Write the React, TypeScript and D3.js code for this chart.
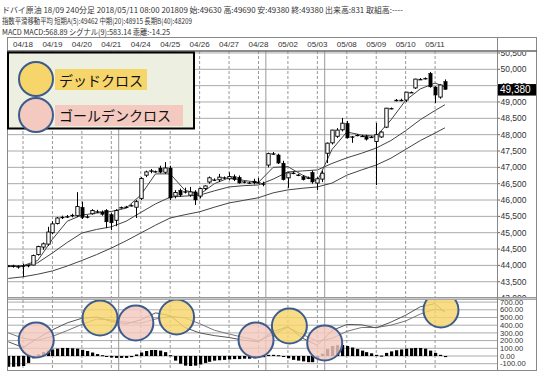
import React from 'react';
import * as d3 from 'd3';

const headerLine1 = 'ドバイ原油 18/09 240分足 2018/05/11 08:00 201809 始:49630 高:49690 安:49380 終:49380 出来高:831 取組高:----';
const headerLine2 = '指数平滑移動平均 短期A(5):49462 中期(20):48915 長期B(40):48209';
const headerLine3 = 'MACD MACD:568.89 シグナル(9):583.14 乖離:-14.25';

const dateLabels = ['04/18','04/19','04/20','04/21','04/24','04/25','04/26','04/27','04/28','05/02','05/03','05/08','05/09','05/10','05/11'];
const dateLabelIndex = [3,9,15,21,27,33,39,45,51,57,63,69,75,81,87];
const weekBreakIndex = [22.5, 52.5, 64.5];

const opens = [43980,43990,43970,43960,43990,44010,44330,44560,44650,45000,45280,45460,45480,45510,45520,45780,45470,45580,45650,45640,45690,45560,45380,45770,45780,45830,45780,46050,46760,46900,46860,46980,46850,46980,46120,46300,46240,46150,46250,46120,46350,46550,46610,46620,46680,46650,46720,46700,46540,46530,46580,46530,46480,47070,47410,47380,47130,46680,46820,46760,46720,46670,46850,46520,46640,47430,47750,47950,48150,48350,47920,47980,47950,47950,47920,47790,47930,48230,48800,49050,49050,49060,49290,49430,49690,49710,49880,49460,49150,49630];
const highs = [44010,44020,44000,44050,44020,44330,44600,44700,45180,45350,45480,45520,45540,45580,46240,45950,45540,45720,45700,45680,45720,45600,45720,45800,45820,45870,46000,46700,46900,46950,46900,47050,47160,47050,46300,46350,46380,46400,46300,46380,46450,46720,46660,46800,46720,46850,46780,46750,46580,46560,46650,46680,46560,47450,47470,47420,47200,46850,46870,46800,46760,46720,46900,46700,46900,47760,48150,48200,48510,48420,47960,48020,47990,48000,47960,48360,48100,48820,48830,49090,49100,49310,49320,49710,49730,49750,49920,49480,49540,49690];
const lows = [43950,43930,43900,43650,43940,44000,44300,44480,44600,44950,45250,45420,45450,45470,45480,45420,45440,45550,45600,45520,45140,45080,45200,45740,45750,45800,45450,46000,46700,46820,46840,46820,46800,46000,46050,46100,46200,46100,45850,46050,46300,46500,46580,46550,46640,46600,46580,46500,46510,46500,46480,46500,46420,47000,47380,47100,46600,46370,46790,46730,46600,46640,46500,46300,46550,47130,47700,47900,48100,47880,47750,47950,47930,47820,47900,46460,47900,48200,48780,49020,49020,49000,49280,49400,49680,49690,49440,48970,49100,49380];
const closes = [43990,43970,43960,43990,44010,44300,44580,44660,45020,45270,45450,45480,45500,45540,45800,45460,45490,45680,45640,45560,45330,45300,45680,45780,45790,45840,45950,46660,46860,46870,46880,46850,46980,46060,46230,46150,46260,46250,46000,46350,46430,46680,46620,46700,46690,46720,46620,46520,46560,46520,46520,46540,46500,47420,47420,47130,46620,46830,46830,46770,46620,46680,46550,46650,46820,47740,48140,48140,48350,47900,47940,47990,47960,47860,47930,48000,48080,48810,48810,49060,49060,49300,49300,49700,49700,49730,49460,49210,49520,49380];

const maIndex = [0,3,6,9,12,15,18,21,24,27,30,33,36,39,42,45,48,51,54,57,60,63,66,69,72,75,78,81,84,87,89];
const maShort = [43980,43990,44150,44800,45350,45540,45600,45650,45750,46150,46800,46800,46300,46170,46500,46680,46600,46540,47000,47020,46760,46580,47550,48080,47990,47950,48450,49050,49400,49580,49462];
const maMid = [43960,43980,44080,44380,44700,44990,45100,45180,45350,45620,45880,46090,46120,46150,46280,46400,46440,46460,46640,46860,46890,46920,47120,47290,47430,47590,47820,48120,48460,48740,48915];
const maLong = [43600,43650,43730,43830,43980,44150,44330,44530,44750,44990,45230,45450,45550,45640,45780,45910,45990,46070,46220,46310,46360,46400,46520,46760,46920,47070,47280,47550,47820,48050,48209];

const macdLine = [185,110,230,340,430,490,505,450,415,470,560,525,370,300,265,240,205,185,320,380,230,140,330,410,405,365,440,530,640,680,569];
const signalLine = [300,230,205,255,330,410,480,470,440,425,480,515,495,420,335,285,240,200,280,370,280,190,230,320,370,370,400,455,545,610,583];
const histogram = [-140,-140,-135,-130,-90,-30,20,50,70,85,95,104,104,100,95,80,65,45,25,10,-10,-20,-25,-25,-25,-15,20,45,65,78,78,70,50,10,-60,-100,-125,-130,-125,-110,-90,-75,-60,-55,-50,-45,-40,-40,-35,-35,-30,-25,-15,15,15,10,-5,-30,-50,-60,-70,-80,-80,-40,30,90,130,140,143,130,110,90,70,50,35,15,5,40,60,75,85,95,100,104,104,95,70,40,15,-14.25];

const crossIndex = [5.7, 18.7, 26.0, 34.3, 50.5, 57.3, 64.5, 88.2];
const crossValue = [208, 494, 429, 506, 208, 390, 169, 597];
const crossType = ['golden','dead','golden','dead','golden','dead','golden','dead'];

const priceTicks = [50500,50000,49500,49000,48500,48000,47500,47000,46500,46000,45500,45000,44500,44000,43500,43000];
const macdTicks = [700,600,500,400,300,200,100,0,-100];

const legendLabels = ['デッドクロス', 'ゴールデンクロス'];

const YELLOW = '#F6D56B';
const PINK = '#F3C9C0';
const RING = '#3D5C8E';

export default function App() {
  const plotL = 7, plotR = 497, frameR = 537;
  const frameT = 37, dateB = 51, priceB = 297, macdT = 300, frameB = 370;
  const x = d3.scaleLinear().domain([0, 89]).range([8.3, 444.9]);
  const y = d3.scaleLinear().domain([43000, 50500]).range([298.06, 52.96]);
  const ym = d3.scaleLinear().domain([-100, 700]).range([363.7, 302.1]);
  const fmtP = d3.format(',');
  const fmtM = (v: number) => d3.format('.2f')(v).replace('\u2212', '-');
  const numFont = '"Liberation Sans", Arial, sans-serif';
  const jpFont = '"Noto Sans CJK JP", "Noto Sans", sans-serif';

  const lineP = (vals: number[]) =>
    d3.line<number>().x((_, k) => x(maIndex[k])).y((v) => y(v))(vals) || '';
  const lineM = (vals: number[]) =>
    d3.line<number>().x((_, k) => x(maIndex[k])).y((v) => ym(v))(vals) || '';

  const bw = 3.4;
  const lastClose = closes[closes.length - 1];

  return (
    <>
      <style>{'body{margin:0;background:#fff}'}</style>
      <svg width={543} height={379} style={{ display: 'block' }}>
        <defs>
          <clipPath id="pc"><rect x={plotL} y={dateB} width={plotR - plotL} height={priceB - dateB} /></clipPath>
          <clipPath id="mc"><rect x={plotL} y={macdT} width={plotR - plotL} height={frameB - macdT} /></clipPath>
          <clipPath id="pac"><rect x={plotR} y={dateB + 1} width={frameR - plotR} height={priceB - dateB - 1} /></clipPath>
          <clipPath id="mac"><rect x={plotR} y={macdT} width={frameR - plotR} height={frameB - macdT} /></clipPath>
        </defs>
        <rect x={0} y={0} width={543} height={379} fill="#fff" />

        {/* header */}
        <g fontFamily={jpFont} fontSize={8} fill="#333">
          <text x={2} y={12.5} textLength={401} lengthAdjust="spacingAndGlyphs">{headerLine1}</text>
          <text x={2} y={24} textLength={190} lengthAdjust="spacingAndGlyphs">{headerLine2}</text>
          <text x={2} y={35} textLength={168} lengthAdjust="spacingAndGlyphs">{headerLine3}</text>
        </g>

        {/* date labels */}
        <g fontFamily={numFont} fontSize={8} fill="#333" textAnchor="middle">
          {dateLabels.map((d, k) => (
            <text key={d} x={x(dateLabelIndex[k])} y={47}>{d}</text>
          ))}
        </g>

        {/* price grid */}
        <g clipPath="url(#pc)">
          {priceTicks.map((t) => (
            <line key={t} x1={plotL} x2={plotR} y1={y(t)} y2={y(t)} stroke="#aaa" strokeWidth={1} />
          ))}
          {dateLabelIndex.map((i) => (
            <line key={i} x1={x(i)} x2={x(i)} y1={dateB} y2={priceB} stroke="#999" strokeDasharray="3,2" strokeWidth={1} />
          ))}
          {weekBreakIndex.map((i) => (
            <line key={i} x1={x(i)} x2={x(i)} y1={dateB} y2={priceB} stroke="#999" strokeWidth={1} />
          ))}
          {/* moving averages */}
          <path d={lineP(maLong)} fill="none" stroke="#444" strokeWidth={1} />
          <path d={lineP(maMid)} fill="none" stroke="#444" strokeWidth={1} />
          <path d={lineP(maShort)} fill="none" stroke="#444" strokeWidth={1} />
          {/* candles */}
          {opens.map((o, i) => {
            const c = closes[i];
            const up = c >= o;
            const top = y(Math.max(o, c));
            const bot = y(Math.min(o, c));
            const h = Math.max(bot - top, 1);
            const cx = Math.round(x(i)) + 0.5;
            return (
              <g key={i}>
                <line x1={cx} x2={cx} y1={y(highs[i])} y2={y(lows[i])} stroke="#000" strokeWidth={1} />
                <rect x={cx - bw / 2} y={top} width={bw} height={h}
                  fill={up && h > 1.5 ? '#fff' : '#000'} stroke="#000" strokeWidth={up && h > 1.5 ? 0.9 : 0.3} />
              </g>
            );
          })}
        </g>

        {/* macd panel */}
        <g clipPath="url(#mc)">
          {macdTicks.map((t) => (
            <line key={t} x1={plotL} x2={plotR} y1={ym(t)} y2={ym(t)} stroke="#aaa" strokeWidth={1} />
          ))}
          {dateLabelIndex.map((i) => (
            <line key={i} x1={x(i)} x2={x(i)} y1={macdT} y2={frameB} stroke="#999" strokeDasharray="3,2" strokeWidth={1} />
          ))}
          {weekBreakIndex.map((i) => (
            <line key={i} x1={x(i)} x2={x(i)} y1={macdT} y2={frameB} stroke="#999" strokeWidth={1} />
          ))}
          {histogram.map((v, i) => {
            const y0 = ym(0), y1 = ym(v);
            return (
              <rect key={i} x={Math.round(x(i)) - 1} y={Math.min(y0, y1)} width={3.2}
                height={Math.max(Math.abs(y1 - y0), 1)} fill="#000" />
            );
          })}
          <path d={lineM(signalLine)} fill="none" stroke="#777" strokeWidth={1} />
          <path d={lineM(macdLine)} fill="none" stroke="#555" strokeWidth={1} />
          {crossIndex.map((ci, k) => (
            <circle key={k} cx={x(ci)} cy={ym(crossValue[k])} r={17.5}
              fill={crossType[k] === 'dead' ? YELLOW : PINK} fillOpacity={0.82}
              stroke={RING} strokeWidth={2} />
          ))}
        </g>

        {/* separator between panels */}
        <rect x={plotL} y={priceB} width={frameR - plotL} height={macdT - priceB} fill="#c8c8c8" />
        <line x1={plotL} x2={frameR} y1={priceB + 0.5} y2={priceB + 0.5} stroke="#999" />
        <line x1={plotL} x2={frameR} y1={macdT - 0.5} y2={macdT - 0.5} stroke="#aaa" />

        {/* price axis labels */}
        <g clipPath="url(#pac)" fontFamily={numFont} fontSize={8.5} fill="#333">
          {priceTicks.map((t) => (
            <g key={t}>
              <line x1={plotR} x2={plotR + 3} y1={y(t)} y2={y(t)} stroke="#666" />
              <text x={plotR + 3.5} y={y(t)} dy="0.35em">{fmtP(t)}</text>
            </g>
          ))}
        </g>
        <g clipPath="url(#mac)" fontFamily={numFont} fontSize={7.6} fill="#333">
          {macdTicks.map((t) => (
            <text key={t} x={plotR + 3} y={ym(t)} dy="0.35em">{fmtM(t)}</text>
          ))}
        </g>

        {/* last price marker */}
        <rect x={plotR + 1} y={y(lastClose) - 5.5} width={frameR - plotR - 2} height={11.5} fill="#000" />
        <text x={plotR + 3} y={y(lastClose)} dy="0.37em" fontFamily={numFont} fontSize={10} fill="#fff">{fmtP(lastClose)}</text>

        {/* frame */}
        <rect x={plotL + 0.5} y={frameT + 0.5} width={frameR - plotL - 1} height={frameB - frameT} fill="none" stroke="#888" strokeWidth={1} />
        <line x1={plotR + 0.5} x2={plotR + 0.5} y1={frameT} y2={frameB} stroke="#888" />
        <line x1={plotL} x2={frameR} y1={dateB} y2={dateB} stroke="#666" strokeWidth={1.5} />

        {/* legend */}
        <rect x={8} y={52.5} width={186} height={76} fill="#EDF0E0" stroke="#000" strokeWidth={2} />
        <circle cx={36} cy={79} r={17} fill={YELLOW} stroke={RING} strokeWidth={2} />
        <circle cx={36} cy={115} r={17} fill={PINK} stroke={RING} strokeWidth={2} />
        <rect x={55} y={69} width={92} height={21} fill={YELLOW} />
        <rect x={55} y={105} width={128} height={21} fill={PINK} />
        <g fontFamily={jpFont} fontSize={14} fill="#111">
          <text x={59} y={85.5}>{legendLabels[0]}</text>
          <text x={59} y={121}>{legendLabels[1]}</text>
        </g>
      </svg>
    </>
  );
}
